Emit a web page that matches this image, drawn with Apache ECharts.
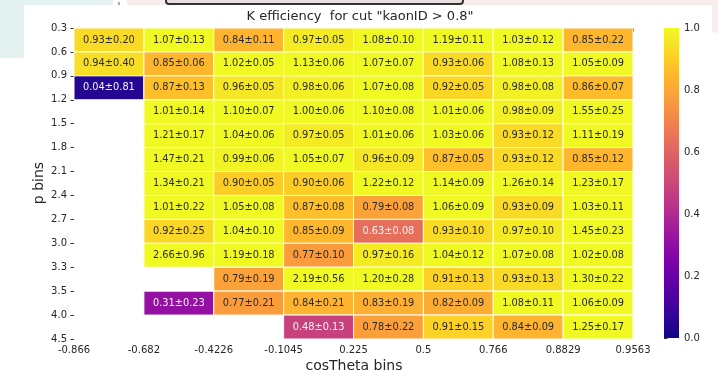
<!DOCTYPE html>
<html>
<head>
<meta charset="utf-8">
<script src="https://cdn.jsdelivr.net/npm/echarts@6/dist/echarts.min.js"></script>
<style>
html,body{margin:0;padding:0;background:#fff;}
#chart{width:723px;height:377px;}
</style>
</head>
<body>
<div id="chart"></div>
<script>
// cosTheta bin edges (x) and p bin edges (y)
const cosEdges = ['-0.866', '-0.682', '-0.4226', '-0.1045', '0.225', '0.5', '0.766', '0.8829', '0.9563'];
const pEdges = ['0.3', '0.6', '0.9', '1.2', '1.5', '1.8', '2.1', '2.4', '2.7', '3.0', '3.3', '3.5', '4.0', '4.5'];

// efficiency values, one row per p bin (top to bottom), null = empty
const effValues = [
  [0.93, 1.07, 0.84, 0.97, 1.08, 1.19, 1.03, 0.85],
  [0.94, 0.85, 1.02, 1.13, 1.07, 0.93, 1.08, 1.05],
  [0.04, 0.87, 0.96, 0.98, 1.07, 0.92, 0.98, 0.86],
  [null, 1.01, 1.10, 1.00, 1.10, 1.01, 0.98, 1.55],
  [null, 1.21, 1.04, 0.97, 1.01, 1.03, 0.93, 1.11],
  [null, 1.47, 0.99, 1.05, 0.96, 0.87, 0.93, 0.85],
  [null, 1.34, 0.90, 0.90, 1.22, 1.14, 1.26, 1.23],
  [null, 1.01, 1.05, 0.87, 0.79, 1.06, 0.93, 1.03],
  [null, 0.92, 1.04, 0.85, 0.63, 0.93, 0.97, 1.45],
  [null, 2.66, 1.19, 0.77, 0.97, 1.04, 1.07, 1.02],
  [null, null, 0.79, 2.19, 1.20, 0.91, 0.93, 1.30],
  [null, 0.31, 0.77, 0.84, 0.83, 0.82, 1.08, 1.06],
  [null, null, null, 0.48, 0.78, 0.91, 0.84, 1.25]
];
// uncertainties
const effErrors = [
  [0.20, 0.13, 0.11, 0.05, 0.10, 0.11, 0.12, 0.22],
  [0.40, 0.06, 0.05, 0.06, 0.07, 0.06, 0.13, 0.09],
  [0.81, 0.13, 0.05, 0.06, 0.08, 0.05, 0.08, 0.07],
  [null, 0.14, 0.07, 0.06, 0.08, 0.06, 0.09, 0.25],
  [null, 0.17, 0.06, 0.05, 0.06, 0.06, 0.12, 0.19],
  [null, 0.21, 0.06, 0.07, 0.09, 0.05, 0.12, 0.12],
  [null, 0.21, 0.05, 0.06, 0.12, 0.09, 0.14, 0.17],
  [null, 0.22, 0.08, 0.08, 0.08, 0.09, 0.09, 0.11],
  [null, 0.25, 0.10, 0.09, 0.08, 0.10, 0.10, 0.23],
  [null, 0.96, 0.18, 0.10, 0.16, 0.12, 0.08, 0.08],
  [null, null, 0.19, 0.56, 0.28, 0.13, 0.13, 0.22],
  [null, 0.23, 0.21, 0.21, 0.19, 0.09, 0.11, 0.09],
  [null, null, null, 0.13, 0.22, 0.15, 0.09, 0.17]
];
const colorbarTicks = [0, 0.2, 0.4, 0.6, 0.8, 1.0];
const xTitle = 'cosTheta bins';
const yTitle = 'p bins';

const plasma = ['#0d0887','#290593','#41049d','#5601a4','#6a00a8','#7e03a8','#8f0da4','#a11b9b','#b12a90','#bf3984','#cc4778','#d6556d','#e16462','#ea7457','#f2844b','#f89540','#fca636','#feb72d','#fcce25','#f7e225','#f0f921'];

const cells = [];
effValues.forEach((row, r) => row.forEach((v, c) => {
  if (v !== null) cells.push([c, r, v, effErrors[r][c]]);
}));

function textColorFor(col) {
  const rgba = echarts.color.parse(col) || [255,255,255,1];
  const lin = rgba.slice(0,3).map(v => { v /= 255; return v <= 0.03928 ? v/12.92 : Math.pow((v+0.055)/1.055, 2.4); });
  const lum = 0.2126*lin[0] + 0.7152*lin[1] + 0.0722*lin[2];
  return lum > 0.408 ? '#2a2a2a' : '#f4f4f4';
}

const FONT = 'DejaVu Sans';
const chart = echarts.init(document.getElementById('chart'), null, {renderer: 'canvas'});

const gradStops = plasma.map((c, i) => ({offset: i/(plasma.length-1), color: c}));

chart.setOption({
  animation: false,
  backgroundColor: '#ffffff',
  textStyle: {fontFamily: FONT},
  title: {
    text: 'K efficiency  for cut "kaonID > 0.8"',
    left: 355, top: 5, textAlign: 'center',
    textStyle: {fontFamily: FONT, fontSize: 13, fontWeight: 'normal', color: '#262626'}
  },
  graphic: [
    {type: 'rect', shape: {x: 0, y: 0, width: 113, height: 5}, style: {fill: '#e3f2f0'}, silent: true},
    {type: 'rect', shape: {x: 0, y: 0, width: 24, height: 58}, style: {fill: '#e3f2f0'}, silent: true},
    {type: 'rect', shape: {x: 127, y: 0, width: 590, height: 5}, style: {fill: '#f8ecec'}, silent: true},
    {type: 'rect', shape: {x: 712, y: 0, width: 6, height: 33, r: [0,0,3,3]}, style: {fill: '#f8ecec'}, silent: true},
    {type: 'rect', shape: {x: 118.5, y: 2, width: 1, height: 3}, style: {fill: '#555'}, silent: true},
    {type: 'rect', shape: {x: 166, y: -20, width: 297, height: 24, r: 3}, style: {fill: '#e9dfdf', stroke: '#333', lineWidth: 2}, silent: true},
    {type: 'text', x: 354, y: 366, silent: true,
     style: {text: xTitle, fill: '#262626', font: '14px "DejaVu Sans"', align: 'center', verticalAlign: 'middle'}},
    {type: 'text', x: 39, y: 183, rotation: Math.PI / 2, silent: true,
     style: {text: yTitle, fill: '#262626', font: '14px "DejaVu Sans"', align: 'center', verticalAlign: 'middle'}}
  ],
  grid: [
    {left: 74, top: 28, width: 559, height: 311, containLabel: false},
    {left: 664, top: 28, width: 15, height: 310, containLabel: false}
  ],
  xAxis: [
    {
      type: 'value', gridIndex: 0, min: 0, max: cosEdges.length - 1, interval: 1,
      axisLine: {show: false},
      axisTick: {show: true, length: 3.5, lineStyle: {color: '#333', width: 1}},
      axisLabel: {fontFamily: FONT, fontSize: 10, color: '#262626', margin: 6,
        formatter: v => cosEdges[Math.round(v)]},
      splitLine: {show: false}
    },
    {type: 'value', gridIndex: 1, min: 0, max: 1, show: false}
  ],
  yAxis: [
    {
      type: 'value', gridIndex: 0, min: 0, max: pEdges.length - 1, interval: 1, inverse: true,
      axisLine: {show: false},
      axisTick: {show: true, length: 3.5, lineStyle: {color: '#333', width: 1}},
      axisLabel: {fontFamily: FONT, fontSize: 10, color: '#262626', margin: 7,
        formatter: v => pEdges[Math.round(v)]},
      splitLine: {show: false}
    },
    {
      type: 'value', gridIndex: 1, min: 0, max: 1, interval: 0.2, position: 'right',
      axisLine: {show: false},
      axisTick: {show: true, length: 3.5, lineStyle: {color: '#333', width: 1}},
      axisLabel: {fontFamily: FONT, fontSize: 10, color: '#262626', margin: 5,
        formatter: v => v.toFixed(1)},
      splitLine: {show: false}
    }
  ],
  visualMap: {
    type: 'continuous', show: false, min: 0, max: 1, dimension: 2, seriesIndex: 0,
    inRange: {color: plasma}
  },
  series: [
    {
      type: 'custom', xAxisIndex: 0, yAxisIndex: 0,
      data: cells,
      encode: {x: 0, y: 1},
      renderItem: function (params, api) {
        const c = api.value(0), r = api.value(1);
        const p0 = api.coord([c, r]);
        const p1 = api.coord([c + 1, r + 1]);
        const x = Math.min(p0[0], p1[0]), y = Math.min(p0[1], p1[1]);
        const w = Math.abs(p1[0] - p0[0]), h = Math.abs(p1[1] - p0[1]);
        const col = api.visual('color');
        const label = api.value(2).toFixed(2) + '\u00b1' + api.value(3).toFixed(2);
        return {
          type: 'group',
          children: [
            {type: 'rect', shape: {x: x, y: y, width: w, height: h},
             style: {fill: col, stroke: '#ffffff', lineWidth: 1}},
            {type: 'text', x: x + w/2, y: y + h/2,
             style: {text: label, fill: textColorFor(col), font: '9.8px "DejaVu Sans"',
                     align: 'center', verticalAlign: 'middle'}}
          ]
        };
      }
    },
    {
      type: 'custom', xAxisIndex: 1, yAxisIndex: 1,
      data: [[0, colorbarTicks[0], 1, colorbarTicks[colorbarTicks.length - 1]]],
      renderItem: function (params, api) {
        const p0 = api.coord([api.value(0), api.value(1)]);
        const p1 = api.coord([api.value(2), api.value(3)]);
        return {
          type: 'rect',
          shape: {x: Math.min(p0[0], p1[0]), y: Math.min(p0[1], p1[1]),
                  width: Math.abs(p1[0]-p0[0]), height: Math.abs(p1[1]-p0[1])},
          style: {fill: new echarts.graphic.LinearGradient(0, 1, 0, 0, gradStops)}
        };
      }
    }
  ]
});
</script>
</body>
</html>
